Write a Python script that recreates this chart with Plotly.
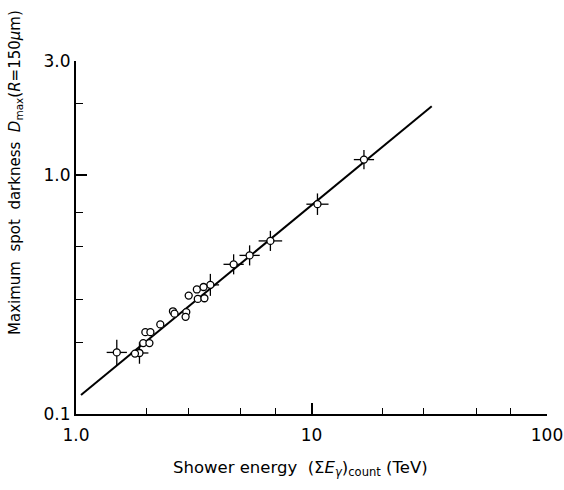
import plotly.graph_objects as go

# Individual showers: energy (TeV) and maximum spot darkness
energy_plain = [1.78, 1.93, 2.05, 1.97, 2.07, 2.28, 2.58, 2.62, 2.94, 2.92, 3.01, 3.26, 3.29, 3.48, 3.51]
dmax_plain = [0.179, 0.198, 0.198, 0.220, 0.220, 0.237, 0.269, 0.263, 0.267, 0.255, 0.313, 0.332, 0.303, 0.340, 0.305]

# Showers plotted with error bars (errors given in decades)
energy_err = [1.49, 1.86, 3.72, 4.67, 5.46, 6.69, 10.6, 16.7]
dmax_err = [0.181, 0.180, 0.347, 0.423, 0.461, 0.530, 0.755, 1.16]
energy_err_dex = [0.043, 0.038, 0.037, 0.043, 0.043, 0.050, 0.047, 0.043]
dmax_err_dex = [0.053, 0.045, 0.046, 0.042, 0.042, 0.042, 0.045, 0.040]

# Calibration line end points
fit_energy = [1.05, 32.4]
fit_dmax = [0.120, 1.94]

x_tickvals = [1, 10, 100]
x_ticktext = ["1.0", "10", "100"]
x_minor = [2, 3, 5, 7, 20, 30, 50, 70]
y_tickvals = [0.1, 1.0, 3.0]
y_ticktext = ["0.1", "1.0", "3.0"]
y_minor = [0.2, 0.3, 0.5, 0.7, 2.0]


def up(vals, dex):
    return [v * (10 ** d - 1) for v, d in zip(vals, dex)]


def down(vals, dex):
    return [v * (1 - 10 ** (-d)) for v, d in zip(vals, dex)]


FONT = "DejaVu Sans"
PLOT_L, PLOT_R, PLOT_T, PLOT_B = 76, 547, 61, 414
PW, PH = PLOT_R - PLOT_L, PLOT_B - PLOT_T

fig = go.Figure()

fig.add_trace(go.Scatter(
    x=fit_energy, y=fit_dmax, mode="lines",
    line=dict(color="black", width=2), hoverinfo="skip", showlegend=False,
))

fig.add_trace(go.Scatter(
    x=energy_err, y=dmax_err, mode="markers",
    marker=dict(symbol="circle", size=7, color="white", line=dict(color="black", width=1.3)),
    error_x=dict(type="data", symmetric=False, array=up(energy_err, energy_err_dex),
                 arrayminus=down(energy_err, energy_err_dex), color="black", thickness=1.3, width=0),
    error_y=dict(type="data", symmetric=False, array=up(dmax_err, dmax_err_dex),
                 arrayminus=down(dmax_err, dmax_err_dex), color="black", thickness=1.3, width=0),
    showlegend=False,
))

fig.add_trace(go.Scatter(
    x=energy_plain, y=dmax_plain, mode="markers",
    marker=dict(symbol="circle", size=7, color="white", line=dict(color="black", width=1.3)),
    showlegend=False,
))

fig.update_layout(
    width=564, height=490,
    margin=dict(l=PLOT_L, r=564 - PLOT_R, t=PLOT_T, b=490 - PLOT_B),
    paper_bgcolor="white", plot_bgcolor="white",
    font=dict(family=FONT, color="black"),
)

fig.update_xaxes(
    type="log", range=[0, 2], automargin=False,
    showline=True, linecolor="black", linewidth=2, mirror=False,
    showgrid=False, zeroline=False,
    ticks="inside", ticklen=11, tickwidth=1.5, tickcolor="black",
    tickvals=x_tickvals, ticktext=x_ticktext,
    tickfont=dict(size=17, family=FONT), ticklabelstandoff=5,
    minor=dict(tickvals=x_minor, ticks="inside", ticklen=6, tickwidth=1.3, tickcolor="black", showgrid=False),
)
fig.update_yaxes(
    type="log", range=[-1, 0.4771], automargin=False,
    showline=True, linecolor="black", linewidth=2, mirror=False,
    showgrid=False, zeroline=False,
    ticks="inside", ticklen=11, tickwidth=1.5, tickcolor="black",
    tickvals=y_tickvals, ticktext=y_ticktext,
    tickfont=dict(size=17, family=FONT),
    minor=dict(tickvals=y_minor, ticks="inside", ticklen=7, tickwidth=1.3, tickcolor="black", showgrid=False),
)

fig.add_annotation(
    text="Shower energy  (Σ<i>E</i><sub><i>γ</i></sub>)<sub>count</sub> (TeV)",
    xref="paper", yref="paper", x=(300 - PLOT_L) / PW, y=-(468 - PLOT_B) / PH,
    xanchor="center", yanchor="middle", showarrow=False,
    font=dict(size=16.5, family=FONT),
)
fig.add_annotation(
    text="Maximum  spot  darkness  <i>D</i><sub>max</sub>(<i>R</i>=150<i>μ</i>m)",
    xref="paper", yref="paper", x=-(PLOT_L - 15) / PW, y=(PLOT_B - 173) / PH,
    xanchor="center", yanchor="middle", textangle=-90, showarrow=False,
    font=dict(size=15, family=FONT),
)

fig.write_html("out.html")
